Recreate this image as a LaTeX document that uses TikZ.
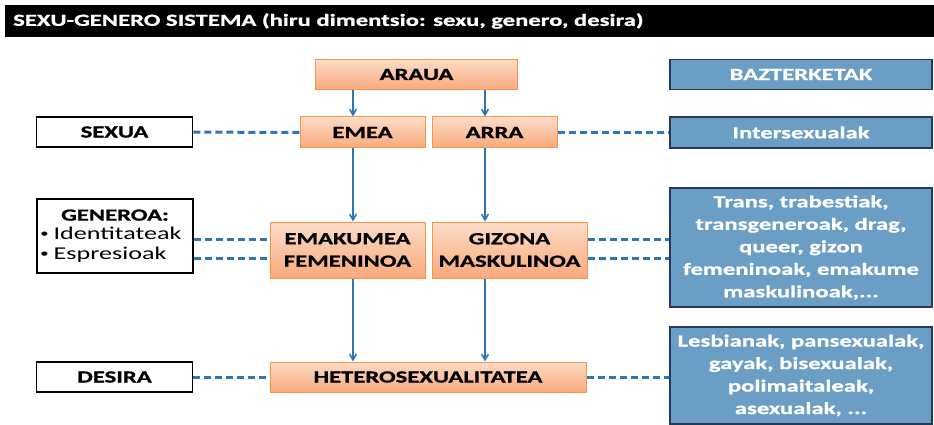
\documentclass[tikz,border=0pt]{standalone}
\usepackage{fontspec}
\setmainfont[FakeStretch=1.45,BoldFeatures={FakeBold=1}]{Carlito}
\usepackage{tikz}
\usetikzlibrary{arrows}
\usetikzlibrary{positioning}
\definecolor{orangeline}{HTML}{F79646}
\definecolor{orangetop}{HTML}{FCDCC8}
\definecolor{orangebot}{HTML}{F9A97C}
\definecolor{bluefill}{HTML}{6A9EC4}
\definecolor{blueline}{HTML}{25395A}
\definecolor{linkblue}{HTML}{2E75B6}
\newcommand{\listitem}[1]{{\mdseries\fontsize{12}{12}\selectfont\raisebox{2.5pt}{\textbullet}}\hspace{5pt}{\mdseries\fontsize{18}{20}\selectfont #1}}

\begin{document}
\begin{tikzpicture}[x=1pt,y=-1pt,font=\fontsize{17}{22.5}\selectfont\bfseries,
  every node/.style={inner sep=0pt,align=center},
  orangebox/.style={draw=orangeline,line width=1pt,top color=orangetop,bottom color=orangebot,text=black},
  bluebox/.style={draw=blueline,line width=1.5pt,fill=bluefill,text=white,minimum width=262pt},
  plainbox/.style={draw=black,line width=1.5pt,fill=white,minimum width=156pt},
  dashline/.style={linkblue,line width=3pt,dash pattern=on 7pt off 4pt},
  arrowline/.style={linkblue,line width=1.6pt,->,>=angle 60}]
  \useasboundingbox (0,0) rectangle (934,425);

  % title bar
  \fill[black] (5,5) rectangle (934,37);
  \node (title) at (13,21)[anchor=west,text=white,font=\fontsize{17}{20}\selectfont\bfseries]{SEXU-GENERO SISTEMA (hiru dimentsio: sexu, genero, desira)};

  % middle column
  \node (araua) at (416.5,74.5)[orangebox,minimum width=202pt,minimum height=30pt]{ARAUA};
  \node (emea) at (362.5,132.5)[orangebox,minimum width=125pt,minimum height=31pt]{EMEA};
  \node[right=6pt of emea,orangebox,minimum width=125pt,minimum height=31pt] (arra){ARRA};
  \node (emakumea) at (347.5,250)[orangebox,minimum width=155pt,minimum height=56pt]{EMAKUMEA\\FEMENINOA};
  \node[right=6pt of emakumea,orangebox,minimum width=155pt,minimum height=56pt] (gizona){GIZONA\\MASKULINOA};
  \node (hetero) at (428,377)[orangebox,minimum width=316pt,minimum height=30pt]{HETEROSEXUALITATEA};

  % left column
  \node (sexua) at (114.5,132)[plainbox,minimum height=30pt]{SEXUA};
  \node (generoa) at (115,236)[plainbox,minimum height=74pt,font=\fontsize{17}{20}\selectfont\bfseries,align=left]{\makebox[150pt]{GENEROA:}\\[-1pt]\listitem{Identitateak}\\\listitem{Espresioak}};
  \node (desira) at (114.5,377)[plainbox,minimum height=30pt]{DESIRA};

  % right column
  \node (bazter) at (801,74.5)[bluebox,minimum height=30pt]{BAZTERKETAK};
  \node (inter) at (801,132.5)[bluebox,minimum height=31pt]{Intersexualak};
  \node (trans) at (801,247.5)[bluebox,minimum height=119pt]{Trans, trabestiak,\\transgeneroak, drag,\\queer, gizon\\femeninoak, emakume\\maskulinoak,...};
  \node (lesb) at (801,375.5)[bluebox,minimum height=97pt]{Lesbianak, pansexualak,\\gayak, bisexualak,\\polimaitaleak,\\asexualak, ...};

  \coordinate (lx) at (353,0);
  \coordinate (rx) at (485,0);
  \coordinate (g1) at (0,239);
  \coordinate (g2) at (0,258);

  \draw[arrowline](araua.south -| lx)--(emea.north -| lx);
  \draw[arrowline](araua.south -| rx)--(arra.north -| rx);
  \draw[arrowline](emea.south -| lx)--(emakumea.north -| lx);
  \draw[arrowline](arra.south -| rx)--(gizona.north -| rx);
  \draw[arrowline](emakumea.south -| lx)--(hetero.north -| lx);
  \draw[arrowline](gizona.south -| rx)--(hetero.north -| rx);

  \draw[dashline](sexua)--(emea);
  \draw[dashline](arra)--(inter.west |- arra);
  \draw[dashline](generoa.east |- g1)--(emakumea.west |- g1);
  \draw[dashline](generoa.east |- g2)--(emakumea.west |- g2);
  \draw[dashline](gizona.east |- g1)--(trans.west |- g1);
  \draw[dashline](gizona.east |- g2)--(trans.west |- g2);
  \draw[dashline](desira)--(hetero);
  \draw[dashline](hetero)--(lesb.west |- hetero);
\end{tikzpicture}
\end{document}
